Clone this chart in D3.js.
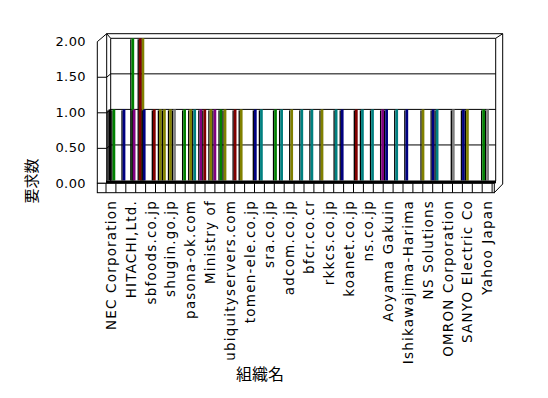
<!DOCTYPE html>
<html>
<head>
<meta charset="utf-8">
<script src="https://cdn.jsdelivr.net/npm/d3@7"></script>
<style>
  body { margin: 0; background: #fff; }
  svg { display: block; }
  text { font-family: "DejaVu Sans", sans-serif; fill: #000; }
</style>
</head>
<body>
<div id="chart"></div>
<script>
// shown tick labels (every other category has its label hidden)
const labels = ["NEC Corporation", "HITACHI,Ltd.", "sbfoods.co.jp", "shugin.go.jp", "pasona-ok.com",
  "Ministry of", "ubiquityservers.com", "tomen-ele.co.jp", "sra.co.jp", "adcom.co.jp",
  "bfcr.co.cr", "rkkcs.co.jp", "koanet.co.jp", "ns.co.jp", "Aoyama Gakuin",
  "Ishikawajima-Harima", "NS Solutions", "OMRON Corporation", "SANYO Electric Co", "Yahoo Japan"];
const categories = [0,1,2,3,4,5,6,7,8,9,10,11,12,13,14,15,16,17,18,19,20,21,22,23,24,25,26,27,28,29,30,31,32,33,34,35,36,37,38];
const yTicks = [0, 0.5, 1, 1.5, 2];

// values per category: left column, right column, and the column standing behind the right one
const seriesA =    [1,null,null,2,null,1,1,null,1,1,1,1,null,1,null,1,null,1,1,1,1,1,null,1,null,1,1,1,null,null,null,1,1,null,1,1,null,1,null];
const seriesB =    [1,1,1,1,1,1,1,1,1,1,1,1,1,null,1,null,1,null,null,null,null,null,1,null,1,null,null,1,1,1,null,null,1,null,null,1,null,1,null];
const seriesBack = [null,null,2,2,null,null,null,null,null,null,null,null,null,null,null,null,null,null,null,null,null,null,null,null,null,null,null,null,null,null,null,null,null,null,null,null,null,null,null];

const colorsA =    ["#000000",null,null,"#800000",null,"#808000","#808000",null,"#808000","#800080","#808000","#008000",null,"#808000",null,"#008080",null,"#008080","#808000","#008080","#008080","#808000",null,"#000080",null,"#008080","#008080","#800080",null,null,null,"#808000","#000080",null,"#808080","#000080",null,"#008000",null];
const colorsB =    ["#008000","#000080","#800080","#000080","#800000","#808000","#808080","#008000","#008080","#800000","#800080","#808000","#800000",null,"#000080",null,"#008000",null,null,null,null,null,"#008080",null,"#800000",null,null,"#000080","#008080","#000080",null,null,"#008080",null,null,"#808000",null,"#808080",null];
const colorsBack = [null,null,"#008000","#808000",null,null,null,null,null,null,null,null,null,null,null,null,null,null,null,null,null,null,null,null,null,null,null,null,null,null,null,null,null,null,null,null,null,null,null];

const width = 548, height = 398;

const svg = d3.select("#chart").append("svg")
  .attr("width", width)
  .attr("height", height);

// scales: front of the floor (ticks, labels) and the plane the columns stand on
const y = d3.scaleLinear().domain([0, 2]).range([180.5, 38.3]);
const xFront = d3.scaleBand().domain(categories).range([106, 492.1]);
const xBar = d3.scaleBand().domain(categories).range([105.6, 499.5]);
const slot = d3.scaleBand().domain(["A", "B"]).range([0, xBar.bandwidth()]).paddingOuter(0.26).align(0.8);

const frame = svg.append("g").attr("fill", "none").attr("stroke", "#000").attr("stroke-width", 1);

// back wall slab and left wall
frame.append("path").attr("fill", "#fff").attr("d", "M106.7,33.7H502.7L495.7,38.3H110.7Z");
frame.append("path").attr("fill", "#fff").attr("d", "M97.3,41.7L106.7,33.7V183.3H97.3Z");
frame.append("line").attr("x1", 495.7).attr("x2", 495.7).attr("y1", 38.3).attr("y2", 181);
frame.append("line").attr("x1", 502.7).attr("x2", 502.7).attr("y1", 33.7).attr("y2", 184);
frame.append("line").attr("x1", 110.7).attr("x2", 110.7).attr("y1", 38.3).attr("y2", 181);

// gridlines running across the left wall and the back wall
frame.selectAll(".grid")
  .data(yTicks.filter(d => d > 0 && d < 2))
  .enter()
  .append("path")
    .attr("class", "grid")
    .attr("d", d => `M97.3,${y(d) + 3.4}H106.7L110.7,${y(d)}H495.7`);

// y tick labels
svg.selectAll(".ylab")
  .data(yTicks)
  .enter()
  .append("text")
    .attr("class", "ylab")
    .attr("x", 86)
    .attr("y", d => y(d) + 3)
    .attr("text-anchor", "end")
    .attr("dominant-baseline", "central")
    .style("font-size", "13px")
    .style("letter-spacing", "0.4px")
    .text(d => d3.format(".2f")(d));

// columns
const drawBar = (k, value, color, dx) => {
  if (value == null) return;
  const x0 = xBar(k) + dx;
  const top = y(value);
  const bottom = y(0);
  svg.append("rect")
    .attr("x", x0).attr("y", top + 1)
    .attr("width", 1.3).attr("height", bottom - top - 1)
    .attr("fill", "#000");
  svg.append("rect")
    .attr("x", x0 + 1.3).attr("y", top)
    .attr("width", slot.bandwidth() - 1.3).attr("height", bottom - top)
    .attr("fill", color);
};

categories.forEach((k, i) => drawBar(k, seriesBack[i], colorsBack[i], slot("B") - 1.3));
categories.forEach((k, i) => drawBar(k, seriesA[i], colorsA[i], slot("A")));
categories.forEach((k, i) => drawBar(k, seriesB[i], colorsB[i], slot("B")));

// floor
svg.append("rect")
  .attr("x", 106).attr("y", 180.5)
  .attr("width", 390).attr("height", 2.8)
  .attr("fill", "#000");

frame.append("rect")
  .attr("x", 97.3).attr("y", 183.3)
  .attr("width", 397).attr("height", 9.4)
  .attr("fill", "#fff");
frame.append("path").attr("d", "M494.3,192.7L502.7,184");

frame.selectAll(".tick")
  .data(categories.concat([categories.length]))
  .enter()
  .append("line")
    .attr("class", "tick")
    .attr("x1", d => d < categories.length ? xFront(d) : xFront.range()[1])
    .attr("x2", d => d < categories.length ? xFront(d) : xFront.range()[1])
    .attr("y1", 183.3)
    .attr("y2", 192.7);

// category labels, only every other one shows
svg.selectAll(".xlab")
  .data(categories.filter(k => k % 2 === 0))
  .enter()
  .append("text")
    .attr("class", "xlab")
    .attr("transform", k => `translate(${xFront(k) + xFront.bandwidth() / 2},200) rotate(-90)`)
    .attr("text-anchor", "end")
    .attr("dominant-baseline", "central")
    .style("font-size", "13.5px")
    .style("letter-spacing", "1.2px")
    .text(k => labels[k / 2]);

// axis titles
svg.append("text")
  .attr("transform", "translate(30,181) rotate(-90)")
  .attr("text-anchor", "middle")
  .attr("dominant-baseline", "central")
  .style("font-family", "'Noto Sans CJK JP', sans-serif")
  .style("font-size", "15px")
  .text("要求数");

svg.append("text")
  .attr("x", 260)
  .attr("y", 373)
  .attr("text-anchor", "middle")
  .attr("dominant-baseline", "central")
  .style("font-family", "'Noto Sans CJK JP', sans-serif")
  .style("font-size", "16px")
  .text("組織名");
</script>
</body>
</html>
